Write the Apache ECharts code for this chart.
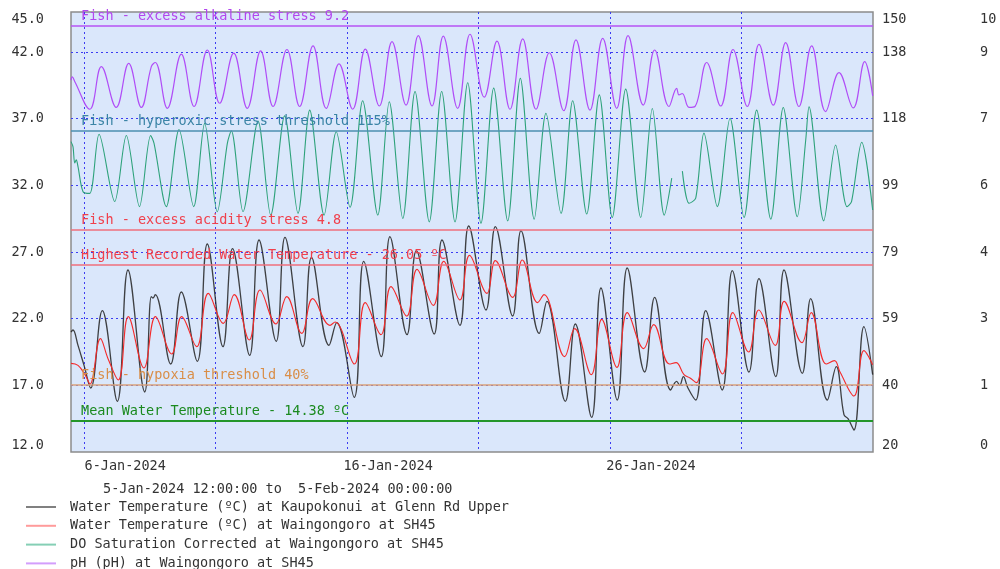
<!DOCTYPE html>
<html>
<head>
<meta charset="utf-8">
<script src="https://cdn.jsdelivr.net/npm/echarts@6/dist/echarts.min.js"></script>
<style>
  html, body { margin: 0; padding: 0; background: #ffffff; }
  #chart { width: 1000px; height: 569px; }
</style>
</head>
<body>
<div id="chart"></div>
<script>
// Hours since 5-Jan-2024 12:00:00 (the period runs to 5-Feb-2024 00:00:00 = 732 h)
const periodHours = 732;
const gridHours = [12, 132, 252, 372, 492, 612];          // 6, 11, 16, 21, 26, 31 Jan
const labelHours = [12, 252, 492];
const dateLabels = ['6-Jan-2024', '16-Jan-2024', '26-Jan-2024'];
const periodText = '5-Jan-2024 12:00:00 to  5-Feb-2024 00:00:00';

// Left axis: water temperature (ºC)
const tempMin = 12, tempMax = 45, tempStep = 5;
// Right axes: DO saturation (%) and pH
const doMin = 20, doMax = 150;
const phLabelMin = 0, phLabelMax = 10;
const gridSteps = 6.6;
const phPlotMax = 9.5;

// Water Temperature (ºC) at Kaupokonui at Glenn Rd Upper
const kaupHours = [0, 1.8, 6.4, 11.9, 18.0, 28.6, 42.3, 52.0, 67.3, 73.3, 74.8, 76.9, 91.0, 100.7, 115.3, 124.4, 138.7, 147.4, 163.1, 171.6, 187.3, 195.3, 211.7, 219.5, 235.5, 242.5, 258.5, 267.2, 283.2, 291.1, 306.7, 315.2, 331.5, 338.6, 355.0, 363.0, 378.8, 387.3, 403.1, 410.7, 427.4, 434.4, 451.2, 460.3, 475.2, 483.7, 498.6, 507.7, 523.6, 532.7, 547.3, 552.8, 555.6, 558.9, 563.1, 570.2, 579.3, 594.4, 603.6, 618.8, 627.9, 643.2, 650.8, 667.5, 675.1, 690.3, 698.5, 705.5, 709.2, 714.6, 723.7, 731.7];
const kaupTemp = [21.0, 21.15, 20.0, 18.5, 16.8, 22.6, 15.8, 25.65, 16.5, 23.65, 23.55, 23.8, 18.6, 24.0, 18.8, 27.6, 19.9, 27.25, 19.25, 27.9, 20.3, 28.1, 19.9, 26.6, 20.0, 21.7, 16.1, 26.3, 19.15, 28.15, 20.8, 27.1, 20.85, 27.9, 21.5, 28.95, 22.65, 28.9, 22.2, 28.6, 20.9, 23.3, 15.8, 21.6, 14.6, 24.3, 15.9, 25.8, 18.0, 23.6, 16.65, 17.3, 17.0, 17.65, 16.8, 15.9, 22.6, 16.65, 25.6, 18.0, 25.0, 17.65, 25.65, 17.9, 23.5, 15.9, 18.4, 14.8, 14.5, 13.65, 21.4, 17.8];

// Water Temperature (ºC) at Waingongoro at SH45
const waingHours = [0, 6.4, 12.8, 17.3, 26.9, 33.8, 43.2, 52.3, 66.6, 77.1, 91.9, 101.0, 114.7, 125.3, 139.0, 149.0, 162.7, 172.5, 187.1, 196.9, 210.6, 220.6, 236.4, 241.0, 258.6, 268.6, 282.9, 292.1, 306.4, 315.8, 330.7, 340.2, 355.0, 363.7, 379.7, 387.3, 403.1, 411.9, 425.9, 431.7, 450.6, 459.7, 474.9, 484.4, 498.3, 507.7, 522.7, 531.8, 546.2, 552.2, 559.5, 565.0, 570.9, 580.2, 594.6, 604.0, 618.5, 627.7, 642.8, 650.9, 667.2, 675.6, 689.3, 696.8, 701.9, 714.6, 723.7, 731.7];
const waingTemp = [18.65, 18.5, 17.8, 17.1, 20.5, 19.0, 17.4, 22.15, 18.3, 22.15, 19.35, 22.15, 19.9, 23.9, 21.65, 23.8, 20.4, 24.15, 21.6, 23.65, 20.9, 23.5, 21.5, 21.75, 18.6, 23.2, 20.8, 24.4, 22.2, 25.7, 23.0, 26.3, 23.4, 26.75, 23.9, 26.35, 23.6, 26.4, 23.2, 23.8, 19.15, 21.25, 17.8, 21.95, 18.35, 22.45, 19.75, 21.55, 18.6, 18.7, 17.8, 17.55, 17.2, 20.5, 17.85, 22.45, 19.5, 22.65, 20.0, 23.3, 20.2, 22.45, 18.6, 18.85, 18.0, 16.2, 19.6, 18.55];

// DO Saturation Corrected at Waingongoro at SH45 (%); null marks the gap in the record
const doHours = [0, 1.8, 3.4, 4.8, 6.4, 11.0, 17.1, 25.6, 39.9, 50.5, 62.5, 72.7, 75.8, 87.0, 98.6, 112.0, 122.0, 133.5, 142.7, 146.3, 157.0, 170.7, 182.3, 195.0, 207.2, 217.9, 231.0, 242.1, 254.7, 266.2, 280.0, 290.5, 302.8, 314.0, 327.0, 338.3, 350.5, 362.1, 374.2, 385.8, 398.6, 410.1, 422.8, 433.5, 447.3, 457.9, 470.7, 482.2, 494.0, 506.3, 520.0, 530.6, 541.5, 548.3, 550.0, 558.0, 564.1, 570.2, 577.7, 589.9, 601.5, 614.3, 625.8, 638.7, 650.1, 662.9, 670.6, 673.6, 687.0, 697.9, 708.3, 712.4, 721.7, 731.7];
const doSat = [111.7, 110.2, 105.4, 106.3, 104.3, 96.9, 96.4, 113.9, 94.0, 113.5, 92.5, 113.5, 111.2, 92.5, 115.3, 92.5, 117.1, 91.0, 111.2, 114.9, 91.0, 117.8, 90.0, 119.3, 90.5, 121.0, 90.0, 114.6, 92.3, 123.8, 90.0, 123.5, 89.0, 126.5, 88.0, 126.5, 88.0, 129.1, 87.6, 127.5, 88.3, 130.4, 88.8, 120.1, 90.5, 123.8, 90.3, 125.5, 89.3, 127.2, 89.3, 121.5, 90.0, 100.9, null, 103.0, 93.5, 95.0, 114.2, 92.5, 118.6, 89.3, 121.0, 88.8, 121.8, 89.5, 112.2, 122.0, 88.3, 110.7, 92.5, 94.0, 111.5, 91.5];

// pH (pH) at Waingongoro at SH45
const phHours = [0, 1.2, 3.4, 17.1, 27.7, 41.3, 52.7, 64.2, 73.3, 76.9, 87.9, 100.7, 112.3, 124.4, 135.7, 148.5, 160.9, 173.1, 184.4, 197.1, 208.7, 220.9, 233.0, 244.6, 257.1, 268.6, 281.4, 293.0, 305.8, 317.0, 329.5, 339.8, 352.9, 364.2, 377.2, 388.8, 400.7, 412.3, 424.4, 436.6, 449.7, 460.9, 473.7, 485.3, 498.1, 508.4, 522.3, 532.7, 545.8, 552.8, 554.9, 557.9, 564.1, 569.5, 580.2, 593.0, 604.2, 617.3, 627.9, 641.0, 652.3, 664.4, 676.0, 688.8, 701.0, 714.0, 724.4, 731.7];
const phValues = [8.03, 8.10, 8.00, 7.40, 8.32, 7.44, 8.39, 7.44, 8.32, 8.41, 7.42, 8.59, 7.46, 8.68, 7.53, 8.61, 7.42, 8.66, 7.46, 8.69, 7.46, 8.77, 7.42, 8.38, 7.40, 8.70, 7.47, 8.86, 7.49, 8.99, 7.47, 8.98, 7.42, 9.02, 7.66, 8.87, 7.40, 8.92, 7.40, 8.62, 7.37, 8.90, 7.38, 8.93, 7.42, 8.99, 7.49, 8.68, 7.46, 7.85, 7.71, 7.74, 7.44, 7.46, 8.41, 7.47, 8.69, 7.46, 8.80, 7.49, 8.84, 7.46, 8.77, 7.35, 8.19, 7.43, 8.43, 7.69];

// Reference lines
const tempLines = [26.05, 14.38];
const tempLineNames = ['Highest Recorded Water Temperature - 26.05 ºC', 'Mean Water Temperature - 14.38 ºC'];
const tempLineColors = ['#ef6f7c', '#23962a'];
const tempTextColors = ['#f0404c', '#1b8a1f'];
const doLines = [115, 40];
const doLineNames = ['Fish - hyperoxic stress threshold 115%', 'Fish - hypoxia threshold 40%'];
const doLineColors = ['#4b8fb0', '#d9a27a'];
const doTextColors = ['#3b84a6', '#d98e48'];
const phLines = [9.2, 4.8];
const phLineNames = ['Fish - excess alkaline stress 9.2', 'Fish - excess acidity stress 4.8'];
const phLineColors = ['#b653f4', '#ef6f7c'];
const phTextColors = ['#b347ee', '#f0404c'];

const seriesNames = [
  'Water Temperature (ºC) at Kaupokonui at Glenn Rd Upper',
  'Water Temperature (ºC) at Waingongoro at SH45',
  'DO Saturation Corrected at Waingongoro at SH45',
  'pH (pH) at Waingongoro at SH45'
];

const FONT = 'DejaVu Sans Mono';
const FS = 13.5;
const zip = (xs, ys) => xs.map((x, i) => [x, ys[i]]);

function refLines(values, names, lineColors, textColors, widths) {
  return {
    silent: true,
    symbol: ['none', 'none'],
    animation: false,
    label: {
      show: true,
      position: 'insideStartTop',
      distance: [10, 2],
      formatter: '{b}',
      fontFamily: FONT,
      fontSize: FS
    },
    data: values.map((v, i) => ({
      yAxis: v,
      name: names[i],
      lineStyle: { color: lineColors[i], width: widths[i], type: 'solid', opacity: 1 },
      label: { color: textColors[i] }
    }))
  };
}

const dotted = { color: '#3c3cf2', width: 1, type: [2, 3] };
const axisText = { color: '#333333', fontFamily: FONT, fontSize: FS };

const chart = echarts.init(document.getElementById('chart'), null, { renderer: 'canvas' });

chart.setOption({
  animation: false,
  backgroundColor: '#ffffff',
  textStyle: { fontFamily: FONT },
  title: {
    text: periodText,
    left: 98,
    top: 476,
    textStyle: { fontFamily: FONT, fontSize: FS, fontWeight: 'normal', color: '#333333', lineHeight: 16 }
  },
  legend: {
    orient: 'vertical',
    left: 26,
    top: 499,
    height: 90,
    padding: 0,
    icon: 'rect',
    itemWidth: 30,
    itemHeight: 2,
    itemGap: 2.8,
    itemStyle: { opacity: 0.75 },
    textStyle: { fontFamily: FONT, fontSize: FS, color: '#333333', lineHeight: 16, padding: [0, 0, 0, 9] },
    data: seriesNames
  },
  grid: {
    left: 71, right: 127, top: 12, bottom: 117,
    show: true,
    backgroundColor: '#dae7fb',
    borderColor: '#8c8c8c',
    borderWidth: 1.5
  },
  xAxis: {
    type: 'value',
    min: 0,
    max: periodHours,
    axisLine: { show: false },
    axisTick: { show: false, customValues: gridHours },
    splitLine: { show: true, lineStyle: dotted },
    axisLabel: Object.assign({
      customValues: labelHours,
      margin: 7,
      padding: [0, 0, 0, 82],
      formatter: v => dateLabels[labelHours.indexOf(v)] || ''
    }, axisText)
  },
  yAxis: [
    {
      type: 'value', position: 'left',
      min: tempMin, max: tempMax, interval: tempStep,
      axisLine: { show: false }, axisTick: { show: false },
      splitLine: { show: true, lineStyle: dotted, showMinLine: false, showMaxLine: false },
      axisLabel: Object.assign({
        margin: 27,
        formatter: v => v.toFixed(1),
        verticalAlignMinLabel: 'bottom',
        verticalAlignMaxLabel: 'top'
      }, axisText)
    },
    {
      type: 'value', position: 'right',
      min: doMin, max: doMax, interval: (doMax - doMin) / gridSteps,
      axisLine: { show: false }, axisTick: { show: false }, splitLine: { show: false },
      axisLabel: Object.assign({
        margin: 9,
        formatter: v => String(Math.round(v)),
        verticalAlignMinLabel: 'bottom',
        verticalAlignMaxLabel: 'top'
      }, axisText)
    },
    {
      type: 'value', position: 'right', offset: 98,
      min: phLabelMin, max: phLabelMax, interval: (phLabelMax - phLabelMin) / gridSteps,
      axisLine: { show: false }, axisTick: { show: false }, splitLine: { show: false },
      axisLabel: Object.assign({
        margin: 9,
        formatter: v => String(Math.floor(v + 1e-6)),
        verticalAlignMinLabel: 'bottom',
        verticalAlignMaxLabel: 'top'
      }, axisText)
    },
    {
      type: 'value', position: 'right', show: false,
      min: 0, max: phPlotMax,
      splitLine: { show: false }
    }
  ],
  series: [
    {
      name: seriesNames[2], type: 'line', yAxisIndex: 1,
      data: zip(doHours, doSat), showSymbol: false, symbol: 'none',
      smooth: 0.3, connectNulls: false,
      lineStyle: { color: '#2ea27b', width: 1.1 }, itemStyle: { color: '#5cbf9c' },
      markLine: refLines(doLines, doLineNames, doLineColors, doTextColors, [1.5, 1.5]),
      z: 2
    },
    {
      name: seriesNames[3], type: 'line', yAxisIndex: 3,
      data: zip(phHours, phValues), showSymbol: false, symbol: 'none',
      smooth: 0.4,
      lineStyle: { color: '#b04df7', width: 1.2 }, itemStyle: { color: '#c47dfb' },
      markLine: refLines(phLines, phLineNames, phLineColors, phTextColors, [1.5, 1.5]),
      z: 2
    },
    {
      name: seriesNames[0], type: 'line', yAxisIndex: 0,
      data: zip(kaupHours, kaupTemp), showSymbol: false, symbol: 'none',
      smooth: 0.4,
      lineStyle: { color: '#222222', width: 1.3, opacity: 0.85 }, itemStyle: { color: '#555555' },
      markLine: refLines(tempLines, tempLineNames, tempLineColors, tempTextColors, [1.5, 2]),
      z: 3
    },
    {
      name: seriesNames[1], type: 'line', yAxisIndex: 0,
      data: zip(waingHours, waingTemp), showSymbol: false, symbol: 'none',
      smooth: 0.4,
      lineStyle: { color: '#f42a2a', width: 1.1 }, itemStyle: { color: '#ff7a7a' },
      z: 4
    }
  ]
});
</script>
</body>
</html>
